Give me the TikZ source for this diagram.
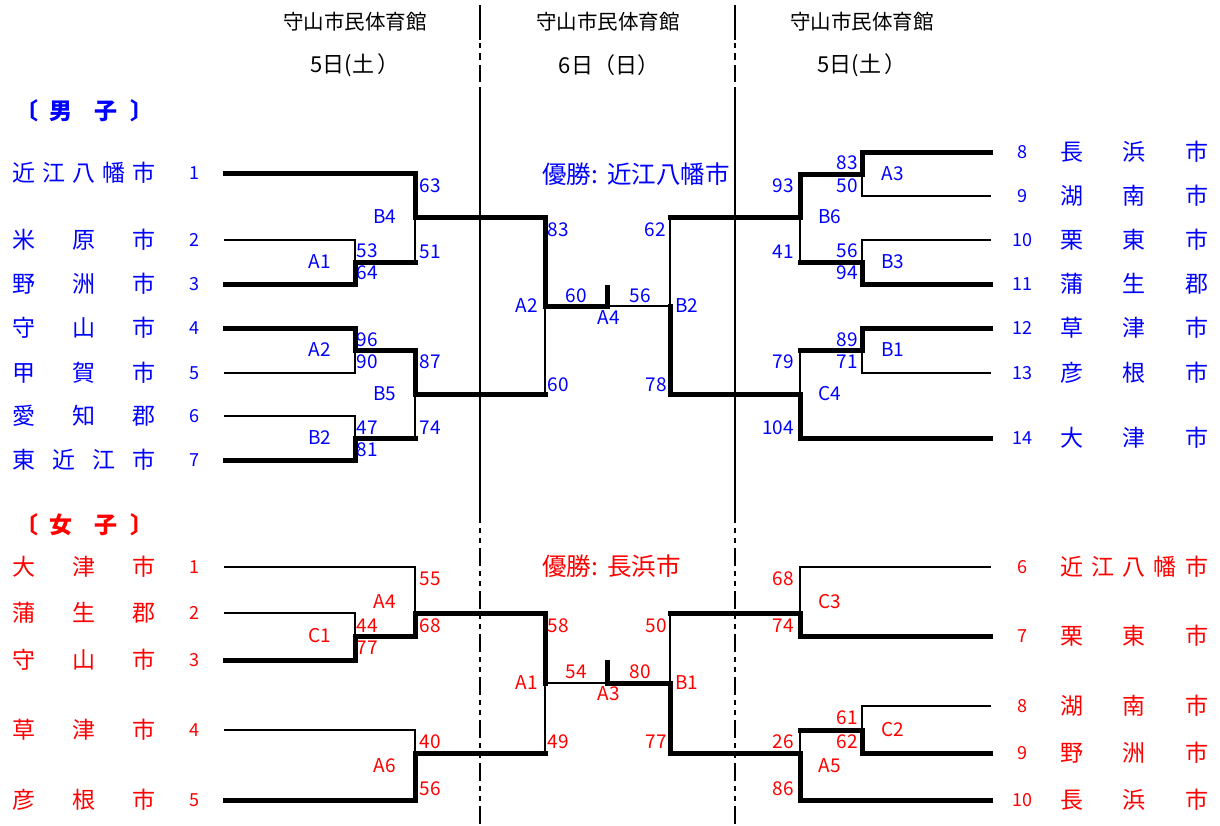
\documentclass[tikz,border=0pt]{standalone}
\usepackage{fontspec}
\setmainfont{Noto Sans CJK JP}
\definecolor{menblue}{RGB}{0,0,255}
\definecolor{womenred}{RGB}{255,0,0}
% one feed of the bracket: horizontal part, then vertical part
\newcommand\feedline[4]{\draw[#1] (#3) -- (#3 -| #4); \draw[#2] (#3 -| #4) -- (#4);}
\tikzset{
  team/.style={inner sep=0pt, anchor=west, font=\fontsize{23pt}{23pt}\selectfont},
  seed/.style={inner sep=0pt, font=\fontsize{18pt}{18pt}\selectfont},
  score/.style={inner sep=0pt, font=\fontsize{19pt}{19pt}\selectfont},
  venue/.style={inner sep=0pt, font=\fontsize{20.5pt}{21pt}\selectfont},
  day/.style={inner sep=0pt, font=\fontsize{22pt}{22pt}\selectfont},
  section/.style={inner sep=0pt, anchor=west, font=\fontsize{23pt}{23pt}\selectfont\bfseries},
  champion/.style={inner sep=0pt, anchor=west, font=\fontsize{24.5pt}{25pt}\selectfont},
  win/.style={black, line width=5pt, line cap=rect},
  lose/.style={black, line width=1.7pt, line cap=rect},
  divider/.style={black, line width=2pt},
  dashdivider/.style={divider, dash pattern=on 18pt off 5pt on 5pt off 5pt on 5pt off 5pt, dash phase=15pt}
}
\begin{document}
\begin{tikzpicture}[x=1pt,y=-1pt]
  \useasboundingbox (0,0) rectangle (1220,825);

  % venues and days
  \node[venue] (venue1) at (355,22) {守山市民体育館};
  \node[venue] (venue2) at (608,22) {守山市民体育館};
  \node[venue] (venue3) at (862,22) {守山市民体育館};
  \node[day] (day1) at (355,65) {5日(土\kern3pt）};
  \node[day] (day2) at (609,65) {6日（日）};
  \node[day] (day3) at (862,65) {5日(土\kern3pt）};

  % dividers
  \foreach \x in {480,735} {
    \draw[divider] (\x,5) -- (\x,40);
    \draw[divider] (\x,43) -- (\x,48);
    \draw[divider] (\x,53) -- (\x,60);
    \draw[divider] (\x,65) -- (\x,82);
    \draw[divider] (\x,87) -- (\x,520);
    \draw[dashdivider] (\x,520) -- (\x,825);
  }

  % ---------- men ----------
  \begin{scope}[menblue]
    \node[section] (mtitle) at (15,111) {〔\kern11pt 男\kern22pt 子\kern13pt 〕};
    \node[champion] (mchamp) at (542,174) {優勝:\kern9pt 近江八幡市};

    \node[team] (mn1) at (12,173) {\makebox[143pt]{近\hfill 江\hfill 八\hfill 幡\hfill 市}};
    \node[team] (mn2) at (12,240) {\makebox[143pt]{米\hfill 原\hfill 市}};
    \node[team] (mn3) at (12,284) {\makebox[143pt]{野\hfill 洲\hfill 市}};
    \node[team] (mn4) at (12,328) {\makebox[143pt]{守\hfill 山\hfill 市}};
    \node[team] (mn5) at (12,373) {\makebox[143pt]{甲\hfill 賀\hfill 市}};
    \node[team] (mn6) at (12,416) {\makebox[143pt]{愛\hfill 知\hfill 郡}};
    \node[team] (mn7) at (12,460) {\makebox[143pt]{東\hfill 近\hfill 江\hfill 市}};
    \node[seed] (ms1) at (194,173) {1};
    \node[seed] (ms2) at (194,240) {2};
    \node[seed] (ms3) at (194,284) {3};
    \node[seed] (ms4) at (194,328) {4};
    \node[seed] (ms5) at (194,373) {5};
    \node[seed] (ms6) at (194,416) {6};
    \node[seed] (ms7) at (194,460) {7};

    \node[team] (mn8) at (1060,152) {\makebox[148pt]{長\hfill 浜\hfill 市}};
    \node[team] (mn9) at (1060,196) {\makebox[148pt]{湖\hfill 南\hfill 市}};
    \node[team] (mn10) at (1060,240) {\makebox[148pt]{栗\hfill 東\hfill 市}};
    \node[team] (mn11) at (1060,284) {\makebox[148pt]{蒲\hfill 生\hfill 郡}};
    \node[team] (mn12) at (1060,328) {\makebox[148pt]{草\hfill 津\hfill 市}};
    \node[team] (mn13) at (1060,373) {\makebox[148pt]{彦\hfill 根\hfill 市}};
    \node[team] (mn14) at (1060,438) {\makebox[148pt]{大\hfill 津\hfill 市}};
    \node[seed] (ms8) at (1022,152) {8};
    \node[seed] (ms9) at (1022,196) {9};
    \node[seed] (ms10) at (1022,240) {10};
    \node[seed] (ms11) at (1022,284) {11};
    \node[seed] (ms12) at (1022,328) {12};
    \node[seed] (ms13) at (1022,373) {13};
    \node[seed] (ms14) at (1022,438) {14};

    % scores and matches, left
    \node[score] (mA1a) at (367,251) {53};
    \node[score] (mA1b) at (367,273) {64};
    \node[score] (mA2a) at (367,340) {96};
    \node[score] (mA2b) at (367,362) {90};
    \node[score] (mB2a) at (367,428) {47};
    \node[score] (mB2b) at (367,450) {81};
    \node[score] (mB4a) at (430,186) {63};
    \node[score] (mB4b) at (430,252) {51};
    \node[score] (mB5a) at (430,362) {87};
    \node[score] (mB5b) at (430,428) {74};
    \node[score] (mSLa) at (558,230) {83};
    \node[score] (mSLb) at (558,385) {60};
    \node[score] (mFa) at (576,296) {60};
    \node[score] (mFb) at (640,296) {56};
    \node[score] (mSRa) at (655,230) {62};
    \node[score] (mSRb) at (656,385) {78};
    \node[score] (mlA1) at (320,262) {A1};
    \node[score] (mlA2) at (320,350) {A2};
    \node[score] (mlB2) at (320,438) {B2};
    \node[score] (mlB4) at (385,217) {B4};
    \node[score] (mlB5) at (385,394) {B5};
    \node[score] (mlSL) at (527,306) {A2};
    \node[score] (mlF) at (609,318) {A4};
    \node[score] (mlSR) at (687,306) {B2};
    % scores and matches, right
    \node[score] (mA3a) at (847,163) {83};
    \node[score] (mA3b) at (847,186) {50};
    \node[score] (mB3a) at (847,251) {56};
    \node[score] (mB3b) at (847,273) {94};
    \node[score] (mB1a) at (847,340) {89};
    \node[score] (mB1b) at (847,362) {71};
    \node[score] (mB6a) at (783,186) {93};
    \node[score] (mB6b) at (783,252) {41};
    \node[score] (mC4a) at (783,362) {79};
    \node[score] (mC4b) at (778,428) {104};
    \node[score] (mlA3) at (893,174) {A3};
    \node[score] (mlB3) at (893,262) {B3};
    \node[score] (mlB1) at (893,350) {B1};
    \node[score] (mlB6) at (830,217) {B6};
    \node[score] (mlC4) at (830,394) {C4};
  \end{scope}

  \coordinate (mt1) at (225,173);
  \coordinate (mt2) at (225,240);
  \coordinate (mt3) at (225,284);
  \coordinate (mt4) at (225,328);
  \coordinate (mt5) at (225,373);
  \coordinate (mt6) at (225,416);
  \coordinate (mt7) at (225,460);
  \coordinate (mt8) at (990,152);
  \coordinate (mt9) at (990,196);
  \coordinate (mt10) at (990,240);
  \coordinate (mt11) at (990,284);
  \coordinate (mt12) at (990,328);
  \coordinate (mt13) at (990,373);
  \coordinate (mt14) at (990,438);
  \coordinate (mA1) at (355,262);
  \coordinate (mA2) at (355,350);
  \coordinate (mB2) at (355,438);
  \coordinate (mB4) at (415,217);
  \coordinate (mB5) at (415,394);
  \coordinate (mSL) at (545,306);
  \coordinate (mF) at (607,306);
  \coordinate (mTop) at (607,287);
  \coordinate (mSR) at (670,306);
  \coordinate (mA3) at (862,174);
  \coordinate (mB3) at (862,262);
  \coordinate (mB1) at (862,350);
  \coordinate (mB6) at (800,217);
  \coordinate (mC4) at (800,394);

  \feedline{lose}{lose}{mt2}{mA1} \feedline{win}{win}{mt3}{mA1}
  \feedline{win}{win}{mt4}{mA2} \feedline{lose}{lose}{mt5}{mA2}
  \feedline{lose}{lose}{mt6}{mB2} \feedline{win}{win}{mt7}{mB2}
  \feedline{win}{win}{mt1}{mB4} \feedline{win}{lose}{mA1}{mB4}
  \feedline{win}{win}{mA2}{mB5} \feedline{win}{lose}{mB2}{mB5}
  \feedline{win}{win}{mB4}{mSL} \feedline{win}{lose}{mB5}{mSL}
  \feedline{lose}{lose}{mt9}{mA3} \feedline{win}{win}{mt8}{mA3}
  \feedline{lose}{lose}{mt10}{mB3} \feedline{win}{win}{mt11}{mB3}
  \feedline{lose}{lose}{mt13}{mB1} \feedline{win}{win}{mt12}{mB1}
  \feedline{win}{win}{mA3}{mB6} \feedline{win}{lose}{mB3}{mB6}
  \feedline{win}{lose}{mB1}{mC4} \feedline{win}{win}{mt14}{mC4}
  \feedline{win}{lose}{mB6}{mSR} \feedline{win}{win}{mC4}{mSR}
  \draw[lose] (mF) -- (mSR);
  \draw[win] (mSL) -- (mF) -- (mTop);

  % ---------- women ----------
  \begin{scope}[womenred]
    \node[section] (wtitle) at (15,525) {〔\kern11pt 女\kern22pt 子\kern13pt 〕};
    \node[champion] (wchamp) at (542,566) {優勝:\kern9pt 長浜市};

    \node[team] (wn1) at (12,567) {\makebox[143pt]{大\hfill 津\hfill 市}};
    \node[team] (wn2) at (12,613) {\makebox[143pt]{蒲\hfill 生\hfill 郡}};
    \node[team] (wn3) at (12,660) {\makebox[143pt]{守\hfill 山\hfill 市}};
    \node[team] (wn4) at (12,730) {\makebox[143pt]{草\hfill 津\hfill 市}};
    \node[team] (wn5) at (12,800) {\makebox[143pt]{彦\hfill 根\hfill 市}};
    \node[seed] (ws1) at (194,567) {1};
    \node[seed] (ws2) at (194,613) {2};
    \node[seed] (ws3) at (194,660) {3};
    \node[seed] (ws4) at (194,730) {4};
    \node[seed] (ws5) at (194,800) {5};

    \node[team] (wn6) at (1060,567) {\makebox[148pt]{近\hfill 江\hfill 八\hfill 幡\hfill 市}};
    \node[team] (wn7) at (1060,636) {\makebox[148pt]{栗\hfill 東\hfill 市}};
    \node[team] (wn8) at (1060,706) {\makebox[148pt]{湖\hfill 南\hfill 市}};
    \node[team] (wn9) at (1060,753) {\makebox[148pt]{野\hfill 洲\hfill 市}};
    \node[team] (wn10) at (1060,800) {\makebox[148pt]{長\hfill 浜\hfill 市}};
    \node[seed] (ws6) at (1022,567) {6};
    \node[seed] (ws7) at (1022,636) {7};
    \node[seed] (ws8) at (1022,706) {8};
    \node[seed] (ws9) at (1022,753) {9};
    \node[seed] (ws10) at (1022,800) {10};

    \node[score] (wC1a) at (367,626) {44};
    \node[score] (wC1b) at (367,648) {77};
    \node[score] (wA4a) at (430,579) {55};
    \node[score] (wA4b) at (430,626) {68};
    \node[score] (wA6a) at (430,742) {40};
    \node[score] (wA6b) at (430,789) {56};
    \node[score] (wSLa) at (558,626) {58};
    \node[score] (wSLb) at (558,742) {49};
    \node[score] (wFa) at (576,672) {54};
    \node[score] (wFb) at (640,672) {80};
    \node[score] (wSRa) at (656,626) {50};
    \node[score] (wSRb) at (656,742) {77};
    \node[score] (wC3a) at (783,579) {68};
    \node[score] (wC3b) at (783,626) {74};
    \node[score] (wC2a) at (847,718) {61};
    \node[score] (wC2b) at (847,742) {62};
    \node[score] (wA5a) at (783,742) {26};
    \node[score] (wA5b) at (783,789) {86};
    \node[score] (wlC1) at (320,636) {C1};
    \node[score] (wlA4) at (385,602) {A4};
    \node[score] (wlA6) at (385,766) {A6};
    \node[score] (wlSL) at (527,683) {A1};
    \node[score] (wlF) at (609,694) {A3};
    \node[score] (wlSR) at (687,683) {B1};
    \node[score] (wlC3) at (830,602) {C3};
    \node[score] (wlC2) at (893,730) {C2};
    \node[score] (wlA5) at (830,766) {A5};
  \end{scope}

  \coordinate (wt1) at (225,567);
  \coordinate (wt2) at (225,613);
  \coordinate (wt3) at (225,660);
  \coordinate (wt4) at (225,730);
  \coordinate (wt5) at (225,800);
  \coordinate (wt6) at (990,567);
  \coordinate (wt7) at (990,636);
  \coordinate (wt8) at (990,706);
  \coordinate (wt9) at (990,753);
  \coordinate (wt10) at (990,800);
  \coordinate (wC1) at (355,636);
  \coordinate (wA4) at (415,613);
  \coordinate (wA6) at (415,753);
  \coordinate (wSL) at (545,683);
  \coordinate (wF) at (607,683);
  \coordinate (wTop) at (607,662);
  \coordinate (wSR) at (670,683);
  \coordinate (wC3) at (800,613);
  \coordinate (wC2) at (862,730);
  \coordinate (wA5) at (800,753);

  \feedline{lose}{lose}{wt2}{wC1} \feedline{win}{win}{wt3}{wC1}
  \feedline{lose}{lose}{wt1}{wA4} \feedline{win}{win}{wC1}{wA4}
  \feedline{lose}{lose}{wt4}{wA6} \feedline{win}{win}{wt5}{wA6}
  \feedline{win}{win}{wA4}{wSL} \feedline{win}{lose}{wA6}{wSL}
  \feedline{lose}{lose}{wt6}{wC3} \feedline{win}{win}{wt7}{wC3}
  \feedline{lose}{lose}{wt8}{wC2} \feedline{win}{win}{wt9}{wC2}
  \feedline{win}{lose}{wC2}{wA5} \feedline{win}{win}{wt10}{wA5}
  \feedline{win}{lose}{wC3}{wSR} \feedline{win}{win}{wA5}{wSR}
  \draw[lose] (wSL) -- (wF);
  \draw[win] (wTop) -- (wF) -- (wSR);
\end{tikzpicture}
\end{document}
